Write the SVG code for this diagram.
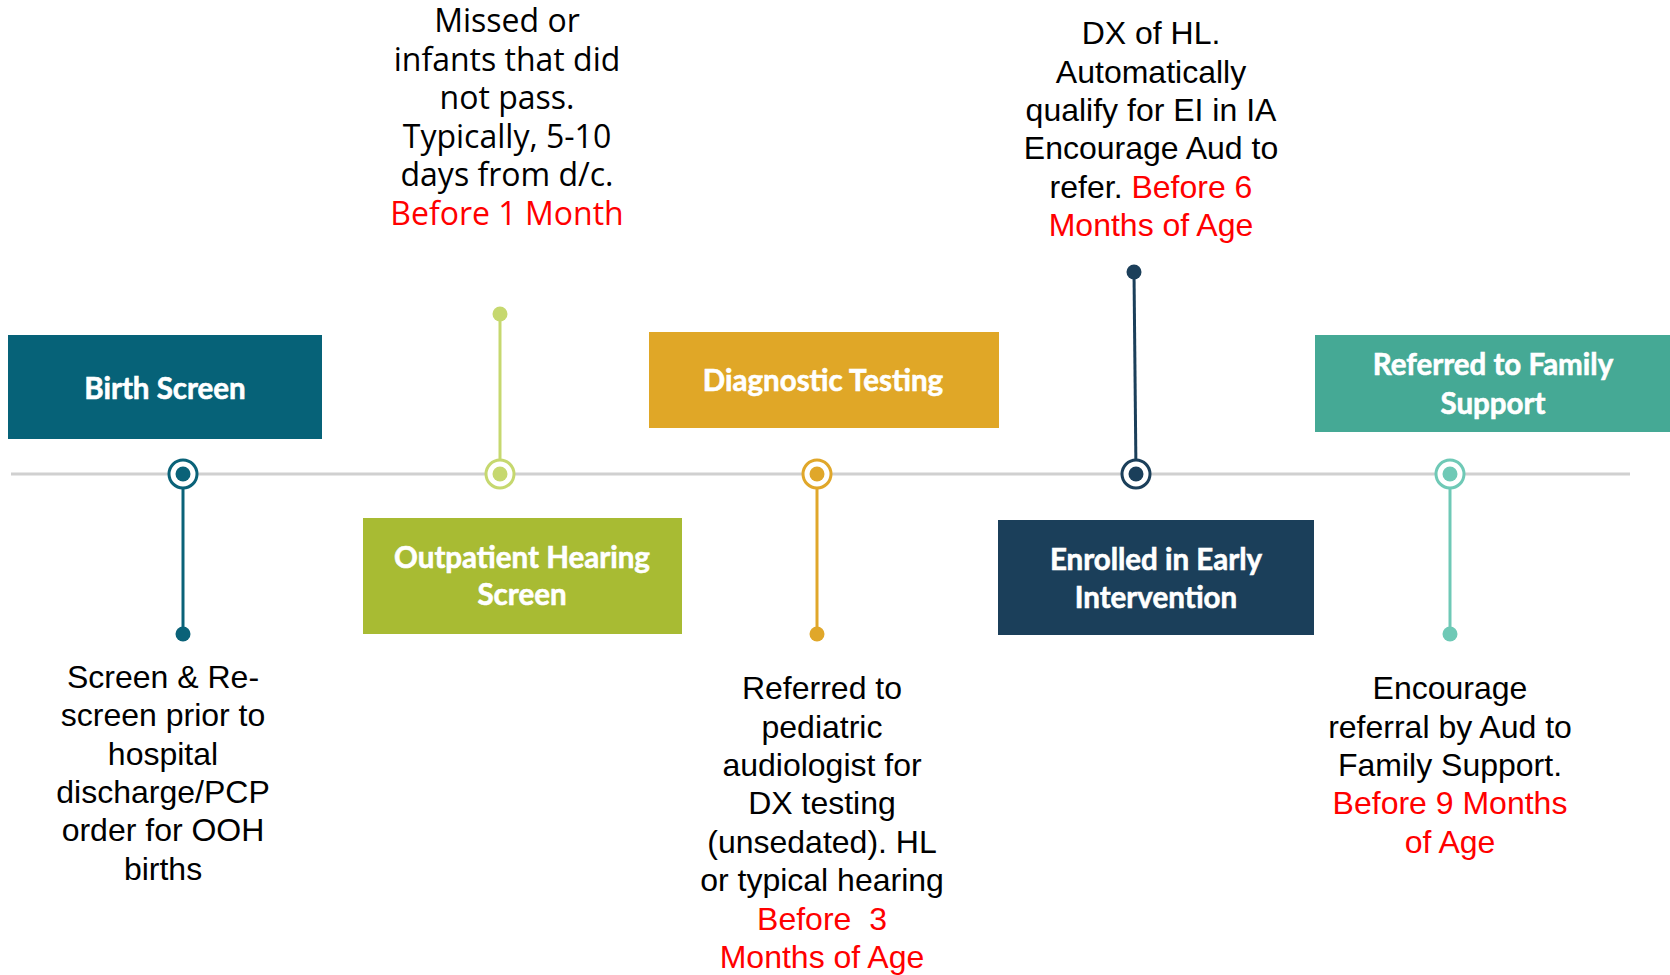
<svg xmlns="http://www.w3.org/2000/svg" width="1670" height="975" viewBox="0 0 1670 975">
<style>
.box{font-family:Lato,"Open Sans",sans-serif;font-weight:bold;font-size:29.5px;fill:#fff;stroke:#fff;stroke-width:0.6;text-anchor:middle}
.note{font-family:"Liberation Sans",Arial,sans-serif;font-size:32px;fill:#000;text-anchor:middle}
.note2{font-family:"Open Sans","Noto Sans",sans-serif;font-size:32px;fill:#000;text-anchor:middle}
.red{fill:#ff0000}
.ring{fill:#fff;stroke-width:3}
.stem{stroke-width:3;fill:none}
</style>
<rect width="1670" height="975" fill="#fff"/>
<g id="connectors">
<line x1="11" y1="474" x2="1630" y2="474" stroke="#d0d0d0" stroke-width="3"/>
<line class="stem" x1="183" y1="474" x2="183" y2="634" stroke="#0a6278"/>
<line class="stem" x1="500" y1="474" x2="500" y2="314" stroke="#c6d86f"/>
<line class="stem" x1="817" y1="474" x2="817" y2="634" stroke="#e0a72a"/>
<line class="stem" x1="1136" y1="474" x2="1134" y2="272" stroke="#1b3f5a"/>
<line class="stem" x1="1450" y1="474" x2="1450" y2="634" stroke="#6fc9b6"/>
</g>
<g id="marker-birth">
<circle class="ring" cx="183" cy="474" r="14" stroke="#0a6278"/>
<circle cx="183" cy="474" r="7.5" fill="#0a6278"/>
<circle cx="183" cy="634" r="7.5" fill="#0a6278"/>
</g>
<g id="marker-outpatient">
<circle class="ring" cx="500" cy="474" r="14" stroke="#c6d86f"/>
<circle cx="500" cy="474" r="7.5" fill="#c6d86f"/>
<circle cx="500" cy="314" r="7.5" fill="#c6d86f"/>
</g>
<g id="marker-diagnostic">
<circle class="ring" cx="817" cy="474" r="14" stroke="#e0a72a"/>
<circle cx="817" cy="474" r="7.5" fill="#e0a72a"/>
<circle cx="817" cy="634" r="7.5" fill="#e0a72a"/>
</g>
<g id="marker-ei">
<circle class="ring" cx="1136" cy="474" r="14" stroke="#1b3f5a"/>
<circle cx="1136" cy="474" r="7.5" fill="#1b3f5a"/>
<circle cx="1134" cy="272" r="7.5" fill="#1b3f5a"/>
</g>
<g id="marker-family">
<circle class="ring" cx="1450" cy="474" r="14" stroke="#6fc9b6"/>
<circle cx="1450" cy="474" r="7.5" fill="#6fc9b6"/>
<circle cx="1450" cy="634" r="7.5" fill="#6fc9b6"/>
</g>
<g id="birth-screen">
<rect x="8" y="335" width="314" height="104" fill="#066278"/>
<text class="box" x="165" y="399">Birth Screen</text>
</g>
<g id="outpatient-hearing-screen">
<rect x="363" y="518" width="319" height="116" fill="#a8bb33"/>
<text class="box" x="522" y="568">Outpatient Hearing</text>
<text class="box" x="522" y="605">Screen</text>
</g>
<g id="diagnostic-testing">
<rect x="649" y="332" width="350" height="96" fill="#e0a727"/>
<text class="box" x="823" y="391">Diagnostic Testing</text>
</g>
<g id="enrolled-ei">
<rect x="998" y="520" width="316" height="115" fill="#1b3f5a"/>
<text class="box" x="1156" y="570">Enrolled in Early</text>
<text class="box" x="1156" y="608">Intervention</text>
</g>
<g id="family-support">
<rect x="1315" y="335" width="355" height="97" fill="#45a995"/>
<text class="box" x="1493" y="375">Referred to Family</text>
<text class="box" x="1493" y="414">Support</text>
</g>
<g id="note-birth">
<text class="note" x="163" y="688">Screen &amp; Re-</text>
<text class="note" x="163" y="726">screen prior to</text>
<text class="note" x="163" y="765">hospital</text>
<text class="note" x="163" y="803">discharge/PCP</text>
<text class="note" x="163" y="841">order for OOH</text>
<text class="note" x="163" y="880">births</text>
</g>
<g id="note-outpatient">
<text class="note2" x="507" y="32">Missed or</text>
<text class="note2" x="507" y="71">infants that did</text>
<text class="note2" x="507" y="109">not pass.</text>
<text class="note2" x="507" y="148">Typically, 5-10</text>
<text class="note2" x="507" y="186">days from d/c.</text>
<text class="note2 red" x="507" y="225">Before 1 Month</text>
</g>
<g id="note-diagnostic">
<text class="note" x="822" y="699">Referred to</text>
<text class="note" x="822" y="738">pediatric</text>
<text class="note" x="822" y="776">audiologist for</text>
<text class="note" x="822" y="814">DX testing</text>
<text class="note" x="822" y="853">(unsedated). HL</text>
<text class="note" x="822" y="891">or typical hearing</text>
<text class="note red" x="822" y="930" xml:space="preserve">Before  3</text>
<text class="note red" x="822" y="968">Months of Age</text>
</g>
<g id="note-ei">
<text class="note" x="1151" y="44">DX of HL.</text>
<text class="note" x="1151" y="83">Automatically</text>
<text class="note" x="1151" y="121">qualify for EI in IA</text>
<text class="note" x="1151" y="159">Encourage Aud to</text>
<text class="note" x="1151" y="198">refer. <tspan class="red">Before 6</tspan></text>
<text class="note red" x="1151" y="236">Months of Age</text>
</g>
<g id="note-family">
<text class="note" x="1450" y="699">Encourage</text>
<text class="note" x="1450" y="738">referral by Aud to</text>
<text class="note" x="1450" y="776">Family Support.</text>
<text class="note red" x="1450" y="814">Before 9 Months</text>
<text class="note red" x="1450" y="853">of Age</text>
</g>
</svg>
